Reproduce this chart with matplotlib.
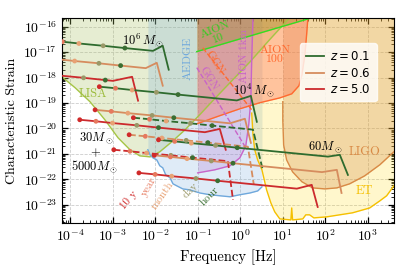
import numpy as np
import matplotlib
matplotlib.use('Agg')
import matplotlib.pyplot as plt
from matplotlib.lines import Line2D
from matplotlib.ticker import LogLocator, NullFormatter

plt.rcParams['font.family'] = 'serif'
plt.rcParams['font.serif'] = ['cmr10']
plt.rcParams['mathtext.fontset'] = 'cm'
plt.rcParams['axes.formatter.use_mathtext'] = True

# ---- detector sensitivity curves: log10(f/Hz), log10(h_c) ----
lisa_f = [-4.35, -4.19, -3.88, -3.53, -3.18, -2.87, -2.59, -2.36, -2.12, -1.89, -1.61, -1.30, -0.95, -0.60, -0.24, 0.23, 0.69, 1.16, 1.40]
lisa_h = [-17.64, -17.97, -18.40, -18.95, -19.66, -20.37, -20.84, -21.08, -21.12, -20.92, -20.53, -20.06, -19.46, -18.83, -18.20, -17.38, -16.51, -15.65, -15.25]

aedge_f = [-2.17, -2.17, -2.12, -2.05, -1.96, -1.89, -1.82, -1.75, -1.65, -1.58, -1.49, -1.35, -1.18, -0.95, -0.71, -0.48, -0.24, -0.01, 0.23, 0.41, 0.51, 0.51]
aedge_h = [-15.0, -20.84, -21.04, -21.16, -21.24, -21.47, -21.55, -21.83, -21.94, -22.18, -22.26, -22.38, -22.42, -22.54, -22.61, -22.65, -22.69, -22.61, -22.54, -22.46, -22.30, -15.0]

aion10_f = [-1.02, -1.02, 1.68, 2.34]
aion10_h = [-15.0, -16.98, -15.65, -15.32]

aion100_f = [-1.02, -1.02, -0.48, -0.01, 0.46, 0.93, 1.21, 1.38, 1.45, 1.52, 1.56, 1.59, 1.60]
aion100_h = [-15.0, -19.82, -19.50, -19.23, -18.99, -18.80, -18.64, -18.32, -17.89, -17.10, -16.31, -15.65, -15.0]

aion1km_f = [-1.00, -1.00, -0.60, -0.24, -0.01, 0.13, 0.20, 0.25, 0.27, 0.30, 0.31]
aion1km_h = [-15.0, -21.75, -21.63, -21.47, -21.16, -20.69, -19.86, -18.87, -17.30, -15.65, -15.0]

ligo_f = [1.00, 1.00, 1.00, 1.02, 1.09, 1.23, 1.45, 1.70, 1.99, 2.27, 2.57, 2.92, 3.28, 3.61, 3.75]
ligo_h = [-15.0, -18.95, -19.66, -20.65, -21.24, -21.71, -22.10, -22.34, -22.38, -22.34, -22.18, -21.87, -21.43, -20.92, -20.76]

et_f = [0.25, 0.27, 0.30, 0.34, 0.41, 0.51, 0.62, 0.72, 0.81, 0.93, 1.19, 1.21, 1.23, 1.47, 1.54, 1.63, 1.73, 2.03, 2.64, 3.04, 3.28, 3.44, 3.61, 3.75]
et_h = [-15.0, -19.40, -20.25, -20.84, -21.24, -21.63, -22.42, -22.93, -23.28, -23.56, -23.60, -23.13, -23.60, -23.56, -23.40, -23.40, -23.52, -23.48, -23.32, -23.13, -22.85, -22.65, -22.26, -21.94]

ggn100_f = [-0.88, 0.27]
ggn100_h = [-16.83, -19.27]
ggn1km_f = [-1.02, 0.16]
ggn1km_h = [-17.61, -20.84]

# ---- binary tracks: first five points are 10y, year, month, day, hour ----
m6_z01_f = [-4.56, -4.18, -3.79, -3.22, -2.71, -2.05, -1.82, -1.68]
m6_z01_h = [-16.53, -16.59, -16.66, -16.75, -16.84, -16.95, -16.75, -17.69]
m6_z06_f = [-4.66, -4.28, -3.89, -3.32, -2.81, -2.22, -1.96, -1.82]
m6_z06_h = [-17.22, -17.28, -17.35, -17.44, -17.53, -17.63, -17.42, -18.32]
m6_z5_f = [-5.02, -4.64, -4.25, -3.68, -3.17, -2.99, -2.54, -2.40]
m6_z5_h = [-17.79, -17.85, -17.92, -18.01, -18.10, -18.13, -17.97, -18.91]

m4_z01_f = [-3.31, -2.93, -2.54, -1.97, -1.46, -0.08, 0.25, 0.39]
m4_z01_h = [-18.36, -18.42, -18.49, -18.58, -18.67, -18.90, -18.72, -19.74]
m4_z06_f = [-3.41, -3.03, -2.64, -2.07, -1.56, -0.24, 0.11, 0.25]
m4_z06_h = [-19.27, -19.33, -19.40, -19.49, -19.58, -19.80, -19.62, -20.57]
m4_z5_f = [-3.77, -3.39, -3.00, -2.43, -1.92, -0.83, -0.48, -0.34]
m4_z5_h = [-19.66, -19.72, -19.79, -19.88, -19.97, -20.15, -20.02, -20.84]

imr_z01_f = [-2.51, -2.13, -1.74, -1.17, -0.66, 0.30, 0.53]
imr_z01_h = [-19.58, -19.64, -19.71, -19.80, -19.89, -20.05, -21.63]
imr_z06_f = [-2.61, -2.23, -1.84, -1.27, -0.76, 0.18, 0.32]
imr_z06_h = [-20.25, -20.31, -20.38, -20.47, -20.56, -20.72, -22.22]
imr_z5_f = [-2.97, -2.59, -2.20, -1.63, -1.12, -0.29, -0.17]
imr_z5_h = [-20.84, -20.90, -20.97, -21.06, -21.15, -21.29, -22.81]

m60_z01_f = [-1.92, -1.54, -1.15, -0.58, -0.07, 2.06, 2.34, 2.53]
m60_z01_h = [-20.45, -20.51, -20.58, -20.67, -20.76, -21.11, -21.04, -21.83]
m60_z06_f = [-2.02, -1.64, -1.25, -0.68, -0.17, 1.92, 2.27, 2.38]
m60_z06_h = [-21.06, -21.12, -21.19, -21.28, -21.37, -21.72, -21.63, -22.54]
m60_z5_f = [-2.38, -2.00, -1.61, -1.04, -0.53, 1.33, 1.68, 1.82]
m60_z5_h = [-21.75, -21.81, -21.88, -21.97, -22.06, -22.37, -22.22, -23.09]

redshifts = ['0.1', '0.6', '5.0']
z_colors = ['#2e6b2e', '#d68c5e', '#cc2a2d']
time_labels = ['10 y', 'year', 'month', 'day', 'hour']
time_colors = ['#d02a2a', '#e6795e', '#e8a274', '#9a9868', '#3a6e32']


def lg(v):
    return 10 ** np.asarray(v)


fig = plt.figure(figsize=(4.08, 2.70), dpi=100)
ax = fig.add_axes([62 / 408, 47 / 270, 332 / 408, 205 / 270])
ax.set_xscale('log')
ax.set_yscale('log')

top = 1e-14
# detectors: (f, h, fill colour, alpha, line colour, slice of curve drawn as line)
detectors = [
    (lisa_f, lisa_h, '#a8c060', 0.28, '#a5c545', slice(None)),
    (aedge_f, aedge_h, '#6fa8dc', 0.22, '#6fa8dc', slice(1, -1)),
    (et_f, et_h, '#ffd700', 0.20, '#f5c000', slice(1, None)),
    (ligo_f, ligo_h, '#d2853f', 0.28, '#d98a45', slice(1, None)),
    (aion1km_f, aion1km_h, '#b070d0', 0.25, '#c864c8', slice(1, None)),
    (aion100_f, aion100_h, '#ff6347', 0.35, '#ff6a30', slice(1, None)),
    (aion10_f, aion10_h, '#808000', 0.28, '#33dd22', slice(1, None)),
]
for f, h, fc, a, lc, sl in detectors:
    ax.fill_between(lg(f), lg(h), top, color=fc, alpha=a, lw=0, zorder=1)
    ax.plot(lg(f[sl]), lg(h[sl]), color=lc, lw=1.0, zorder=2)

ax.plot(lg(ggn100_f), lg(ggn100_h), color='#ff6a30', lw=1.0, ls='--', zorder=2)
ax.plot(lg(ggn1km_f), lg(ggn1km_h), color='#c864c8', lw=1.0, ls='--', zorder=2)

tracks = [
    (m6_z01_f, m6_z01_h, 0, '-'), (m6_z06_f, m6_z06_h, 1, '-'), (m6_z5_f, m6_z5_h, 2, '-'),
    (m4_z01_f, m4_z01_h, 0, '-'), (m4_z06_f, m4_z06_h, 1, '-'), (m4_z5_f, m4_z5_h, 2, '-'),
    (imr_z01_f, imr_z01_h, 0, '--'), (imr_z06_f, imr_z06_h, 1, '--'), (imr_z5_f, imr_z5_h, 2, '--'),
    (m60_z01_f, m60_z01_h, 0, '-'), (m60_z06_f, m60_z06_h, 1, '-'), (m60_z5_f, m60_z5_h, 2, '-'),
]
for f, h, zi, ls in tracks:
    ax.plot(lg(f), lg(h), color=z_colors[zi], lw=1.3, ls=ls, zorder=3)
    ax.scatter(lg(f[:5]), lg(h[:5]), c=time_colors, s=12, zorder=4, lw=0)

# labels
tk = dict(transform=ax.transAxes, ha='center', va='center')
ax.text(0.244, 0.893, r'$10^6\,M_\odot$', fontsize=9, **tk)
ax.text(0.578, 0.649, r'$10^4\,M_\odot$', fontsize=9, **tk)
ax.text(0.792, 0.371, r'$60M_\odot$', fontsize=9, **tk)
ax.text(0.102, 0.415, r'$30M_\odot$', fontsize=9, **tk)
ax.text(0.099, 0.341, '+', fontsize=9, **tk)
ax.text(0.099, 0.273, r'$5000M_\odot$', fontsize=9, **tk)

ax.text(0.093, 0.629, 'LISA', fontsize=9, color='#9cbb3c', **tk)
ax.text(0.380, 0.805, 'AEDGE', fontsize=8.5, color='#6fa8dc', rotation=90, **tk)
ax.text(0.467, 0.922, 'AION\n10', fontsize=8.5, color='#33cc22', rotation=22, linespacing=1.0, **tk)
ax.text(0.642, 0.820, 'AION\n100', fontsize=8.5, color='#ff6a30', linespacing=1.0, **tk)
ax.text(0.548, 0.812, 'AION 1km', fontsize=8, color='#c864c8', rotation=90, **tk)
ax.text(0.461, 0.785, 'GGN', fontsize=8, color='#ff6a30', rotation=-58, **tk)
ax.text(0.440, 0.707, 'GGN', fontsize=8, color='#c864c8', rotation=-58, **tk)
ax.text(0.910, 0.346, 'LIGO', fontsize=9, color='#d98a45', **tk)
ax.text(0.910, 0.156, 'ET', fontsize=9, color='#f5c000', **tk)

time_pos = [(0.202, 0.112, 50), (0.262, 0.176, 60), (0.304, 0.137, 55), (0.386, 0.161, 45), (0.443, 0.132, 45)]
for lab, c, (x, y, r) in zip(time_labels, time_colors, time_pos):
    ax.text(x, y, lab, fontsize=8, color=c, rotation=r, **tk)

ax.set_xlim(6.5e-5, 4.1e3)
ax.set_ylim(1.9e-24, 2.2e-16)
ax.xaxis.set_major_locator(LogLocator(base=10, numticks=20))
ax.yaxis.set_major_locator(LogLocator(base=10, numticks=20))
ax.xaxis.set_minor_locator(LogLocator(base=10, subs=np.arange(2, 10), numticks=100))
ax.yaxis.set_minor_locator(LogLocator(base=10, subs=np.arange(2, 10), numticks=100))
ax.xaxis.set_minor_formatter(NullFormatter())
ax.yaxis.set_minor_formatter(NullFormatter())
ax.tick_params(which='both', direction='in', top=True, right=True, labelsize=10)
ax.tick_params(which='major', length=4, width=0.9)
ax.tick_params(which='minor', length=2, width=0.6)
ax.grid(True, which='major', ls='--', color='0.8', lw=0.6)
ax.set_axisbelow(True)
ax.set_xlabel('Frequency [Hz]', fontsize=10.5)
ax.set_ylabel('Characteristic Strain', fontsize=10)

handles = [Line2D([], [], color=c, lw=1.3) for c in z_colors]
leg = ax.legend(handles, [r'$z = %s$' % z for z in redshifts], loc='upper right',
                bbox_to_anchor=(0.966, 0.905), fontsize=8.5, framealpha=0.8,
                edgecolor='white', handlelength=1.6, handletextpad=0.5,
                borderpad=0.5, labelspacing=0.3)
for t in leg.get_texts():
    t.set_math_fontfamily('dejavusans')

fig.savefig('out.png', dpi=100)
